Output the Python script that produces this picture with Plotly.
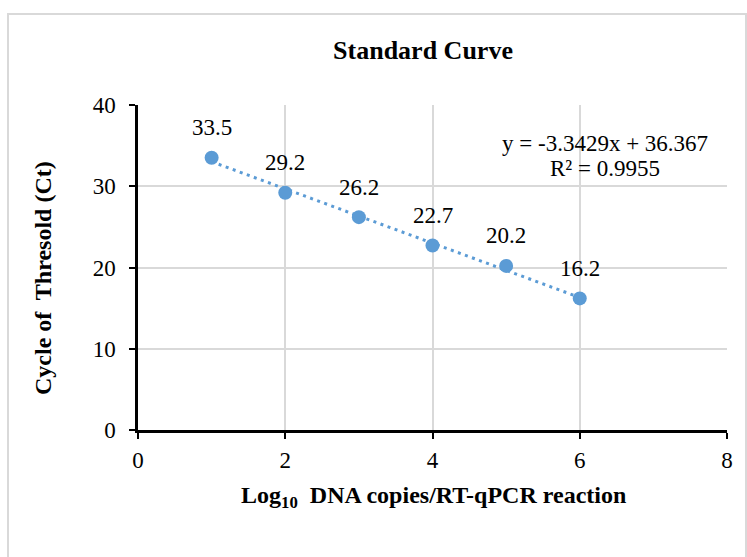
import plotly.graph_objects as go

log_copies = [1, 2, 3, 4, 5, 6]
ct_values = [33.5, 29.2, 26.2, 22.7, 20.2, 16.2]
ct_labels = ["33.5", "29.2", "26.2", "22.7", "20.2", "16.2"]
slope = -3.3429
intercept = 36.367
r_squared = 0.9955

blue = "#5B9BD5"
font_family = "Liberation Serif, Times New Roman, serif"

L, R, T, B = 138, 727, 105, 430
W, H = 747, 557
pw, ph = R - L, B - T

def px(x):
    return (x - L) / pw

def py(y):
    return (B - y) / ph

trend_x = [log_copies[0], log_copies[-1]]
trend_y = [slope * x + intercept for x in trend_x]

fig = go.Figure()
fig.add_trace(go.Scatter(x=trend_x, y=trend_y, mode="lines",
                         line=dict(color=blue, width=3, dash="3px,4.5px"),
                         hoverinfo="skip", showlegend=False))
fig.add_trace(go.Scatter(x=log_copies, y=ct_values, mode="markers",
                         marker=dict(color=blue, size=14),
                         showlegend=False))

for x, y, t in zip(log_copies, ct_values, ct_labels):
    fig.add_annotation(x=x, y=y, text=t, showarrow=False, yshift=30,
                       font=dict(family=font_family, size=23, color="black"))

fig.add_annotation(xref="paper", yref="paper", x=px(605), y=py(143),
                   text=f"y = {slope}x + {intercept}", showarrow=False,
                   xanchor="center", yanchor="middle",
                   font=dict(family=font_family, size=23, color="black"))
fig.add_annotation(xref="paper", yref="paper", x=px(605), y=py(168),
                   text=f"R² = {r_squared}", showarrow=False,
                   xanchor="center", yanchor="middle",
                   font=dict(family=font_family, size=23, color="black"))

fig.add_annotation(xref="paper", yref="paper", x=px(433), y=py(497),
                   text="<b>Log<sub>10</sub>  DNA copies/RT-qPCR reaction</b>",
                   showarrow=False, xanchor="center", yanchor="middle",
                   font=dict(family=font_family, size=24, color="black"))
fig.add_annotation(xref="paper", yref="paper", x=px(43), y=py(278),
                   text="<b>Cycle of  Thresold (Ct)</b>", textangle=-90,
                   showarrow=False, xanchor="center", yanchor="middle",
                   font=dict(family=font_family, size=24, color="black"))

fig.add_shape(type="rect", xref="paper", yref="paper",
              x0=px(8), x1=px(746), y0=py(575), y1=py(14),
              line=dict(color="#d9d9d9", width=2), layer="below")

fig.update_layout(
    width=W, height=H,
    margin=dict(l=L, r=W - R, t=T, b=H - B),
    paper_bgcolor="white", plot_bgcolor="white",
    font=dict(family=font_family, size=23, color="black"),
    title=dict(text="<b>Standard Curve</b>", x=423 / W, xanchor="center",
               y=1 - 50 / H, yanchor="middle",
               font=dict(family=font_family, size=26, color="black")),
    xaxis=dict(range=[0, 8], dtick=2, showgrid=True, gridcolor="#d9d9d9", gridwidth=1.5,
               showline=True, linecolor="black", linewidth=2.5,
               ticks="outside", ticklen=6, tickcolor="black", tickwidth=2,
               zeroline=False, tickfont=dict(size=23), ticklabelstandoff=2),
    yaxis=dict(range=[0, 40], dtick=10, showgrid=True, gridcolor="#d9d9d9", gridwidth=1.5,
               showline=True, linecolor="black", linewidth=2.5,
               ticks="outside", ticklen=6, tickcolor="black", tickwidth=2,
               zeroline=False, tickfont=dict(size=23), ticklabelstandoff=9),
)

fig.write_html("out.html", config={"displayModeBar": False},
               post_script="document.body.style.margin='0';")
